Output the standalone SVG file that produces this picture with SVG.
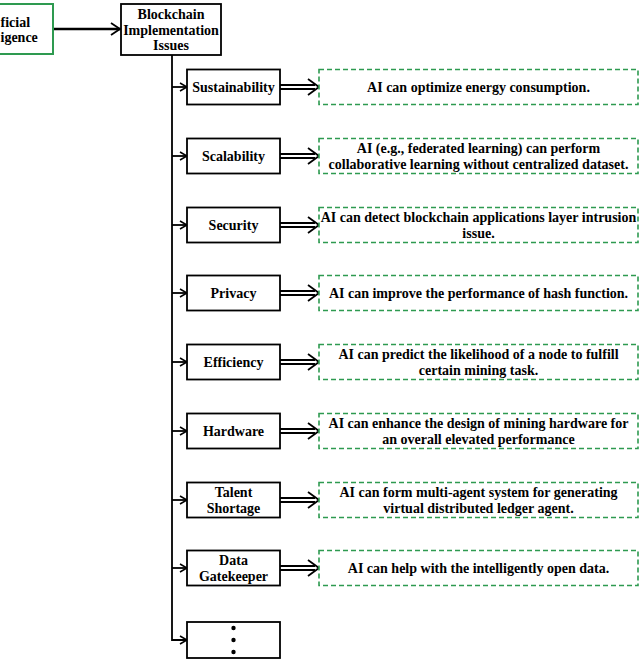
<svg xmlns="http://www.w3.org/2000/svg" width="640" height="660" viewBox="0 0 640 660">
<style>
.t{font-family:"Liberation Serif","Times New Roman",serif;font-weight:bold;font-size:14px;fill:#000;text-anchor:middle}
.ts{text-anchor:start}
.bx{fill:#fff;stroke:#000;stroke-width:1.8}
.gb{fill:#fff;stroke:#2e9a50;stroke-width:1.6;stroke-dasharray:5 3}
.gs{fill:#fff;stroke:#2e9a50;stroke-width:2}
.ln{fill:none;stroke:#000;stroke-width:1.8}
.hd{fill:none;stroke:#000;stroke-width:1.8;stroke-linejoin:miter}
</style>
<defs>
<marker id="chev" viewBox="0 0 10 10" refX="9" refY="5" markerWidth="10" markerHeight="10" markerUnits="userSpaceOnUse" orient="auto">
<path d="M2,1 L9,5 L2,9" fill="none" stroke="#000" stroke-width="1.6"/>
</marker>
</defs>
<rect width="640" height="660" fill="#fff"/>

<g id="connectors">
<line x1="53" y1="29" x2="120" y2="29" stroke="#000" stroke-width="2.6"/>
<path class="hd" d="M111,23 L120,29 L111,35" stroke-width="2"/>
<path class="ln" d="M172,55 V640 H187" marker-end="url(#chev)"/>
<line class="ln" x1="172" y1="87" x2="187" y2="87" marker-end="url(#chev)"/>
<line class="ln" x1="172" y1="156" x2="187" y2="156" marker-end="url(#chev)"/>
<line class="ln" x1="172" y1="225" x2="187" y2="225" marker-end="url(#chev)"/>
<line class="ln" x1="172" y1="293" x2="187" y2="293" marker-end="url(#chev)"/>
<line class="ln" x1="172" y1="362" x2="187" y2="362" marker-end="url(#chev)"/>
<line class="ln" x1="172" y1="431" x2="187" y2="431" marker-end="url(#chev)"/>
<line class="ln" x1="172" y1="500" x2="187" y2="500" marker-end="url(#chev)"/>
<line class="ln" x1="172" y1="568" x2="187" y2="568" marker-end="url(#chev)"/>
<g id="double-arrows">
<path class="ln" stroke-width="1.5" d="M280,85 H315 M280,89 H315"/><path class="hd" d="M308,79 L319,87 L308,95"/>
<path class="ln" stroke-width="1.5" d="M280,154 H315 M280,158 H315"/><path class="hd" d="M308,148 L319,156 L308,164"/>
<path class="ln" stroke-width="1.5" d="M280,223 H315 M280,227 H315"/><path class="hd" d="M308,217 L319,225 L308,233"/>
<path class="ln" stroke-width="1.5" d="M280,291 H315 M280,295 H315"/><path class="hd" d="M308,285 L319,293 L308,301"/>
<path class="ln" stroke-width="1.5" d="M280,360 H315 M280,364 H315"/><path class="hd" d="M308,354 L319,362 L308,370"/>
<path class="ln" stroke-width="1.5" d="M280,429 H315 M280,433 H315"/><path class="hd" d="M308,423 L319,431 L308,439"/>
<path class="ln" stroke-width="1.5" d="M280,498 H315 M280,502 H315"/><path class="hd" d="M308,492 L319,500 L308,508"/>
<path class="ln" stroke-width="1.5" d="M280,566 H315 M280,570 H315"/><path class="hd" d="M308,560 L319,568 L308,576"/>
</g>
</g>

<g id="ai">
<rect class="gs" x="-50" y="4" width="103" height="50"/>
<text class="t ts" x="0.5" y="27">ficial</text>
<text class="t ts" x="0.5" y="42">igence</text>
</g>
<g id="blockchain">
<rect class="bx" x="121" y="4" width="100" height="51"/>
<text class="t" x="171" y="19">Blockchain</text>
<text class="t" x="171" y="35">Implementation</text>
<text class="t" x="171" y="50">Issues</text>
</g>

<g id="sustainability">
<rect class="bx" x="187" y="69.5" width="93" height="35"/>
<text class="t" x="233.5" y="92">Sustainability</text>
</g>
<g id="sustainability-ai">
<rect class="gb" x="319" y="69.5" width="319" height="35"/>
<text class="t" x="478.5" y="92">AI can optimize energy consumption.</text>
</g>

<g id="scalability">
<rect class="bx" x="187" y="138.5" width="93" height="35"/>
<text class="t" x="233.5" y="161">Scalability</text>
</g>
<g id="scalability-ai">
<rect class="gb" x="319" y="138.5" width="319" height="35"/>
<text class="t" x="478.5" y="153">AI (e.g., federated learning) can perform</text>
<text class="t" x="478.5" y="169">collaborative learning without centralized dataset.</text>
</g>

<g id="security">
<rect class="bx" x="187" y="207.5" width="93" height="35"/>
<text class="t" x="233.5" y="230">Security</text>
</g>
<g id="security-ai">
<rect class="gb" x="319" y="207.5" width="319" height="35"/>
<text class="t" x="478.5" y="222">AI can detect blockchain applications layer intrusion</text>
<text class="t" x="478.5" y="238">issue.</text>
</g>

<g id="privacy">
<rect class="bx" x="187" y="275.5" width="93" height="35"/>
<text class="t" x="233.5" y="298">Privacy</text>
</g>
<g id="privacy-ai">
<rect class="gb" x="319" y="275.5" width="319" height="35"/>
<text class="t" x="478.5" y="298">AI can improve the performance of hash function.</text>
</g>

<g id="efficiency">
<rect class="bx" x="187" y="344.5" width="93" height="35"/>
<text class="t" x="233.5" y="367">Efficiency</text>
</g>
<g id="efficiency-ai">
<rect class="gb" x="319" y="344.5" width="319" height="35"/>
<text class="t" x="478.5" y="359">AI can predict the likelihood of a node to fulfill</text>
<text class="t" x="478.5" y="375">certain mining task.</text>
</g>

<g id="hardware">
<rect class="bx" x="187" y="413.5" width="93" height="35"/>
<text class="t" x="233.5" y="436">Hardware</text>
</g>
<g id="hardware-ai">
<rect class="gb" x="319" y="413.5" width="319" height="35"/>
<text class="t" x="478.5" y="428">AI can enhance the design of mining hardware for</text>
<text class="t" x="478.5" y="444">an overall elevated performance</text>
</g>

<g id="talent">
<rect class="bx" x="187" y="482.5" width="93" height="35"/>
<text class="t" x="233.5" y="497">Talent</text>
<text class="t" x="233.5" y="513">Shortage</text>
</g>
<g id="talent-ai">
<rect class="gb" x="319" y="482.5" width="319" height="35"/>
<text class="t" x="478.5" y="497">AI can form multi-agent system for generating</text>
<text class="t" x="478.5" y="513">virtual distributed ledger agent.</text>
</g>

<g id="data">
<rect class="bx" x="187" y="550.5" width="93" height="35"/>
<text class="t" x="233.5" y="565">Data</text>
<text class="t" x="233.5" y="581">Gatekeeper</text>
</g>
<g id="data-ai">
<rect class="gb" x="319" y="550.5" width="319" height="35"/>
<text class="t" x="478.5" y="573">AI can help with the intelligently open data.</text>
</g>

<g id="more">
<rect class="bx" x="187" y="622" width="93" height="36"/>
<circle cx="233.5" cy="628" r="2.2"/>
<circle cx="233.5" cy="640" r="2.2"/>
<circle cx="233.5" cy="652" r="2.2"/>
</g>
</svg>
